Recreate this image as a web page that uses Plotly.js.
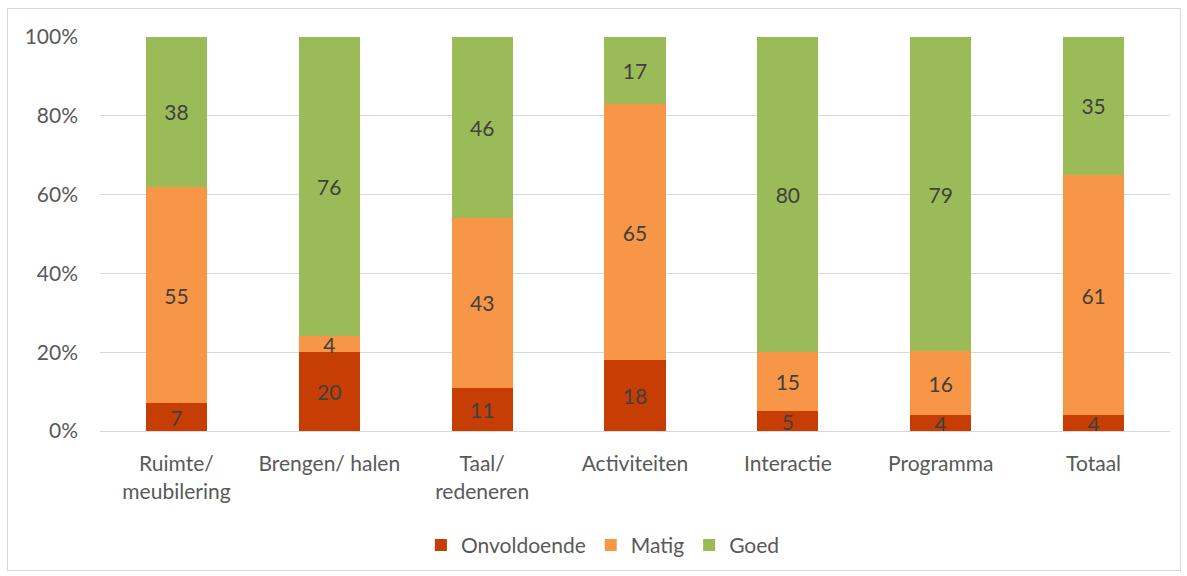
<!DOCTYPE html>
<html><head><meta charset="utf-8">
<script src="https://cdn.plot.ly/plotly-3.0.1.min.js"></script>
<style>
html,body{margin:0;padding:0;background:#fff;}
#frame{position:absolute;left:7px;top:8px;width:1172px;height:561px;border:1px solid #D9D9D9;}
#chart{position:absolute;left:0;top:0;width:1187px;height:576px;}
</style></head>
<body>
<div id="frame"></div>
<div id="chart"></div>
<script>
const categories = ["Ruimte/<br>meubilering","Brengen/ halen","Taal/<br>redeneren","Activiteiten","Interactie","Programma","Totaal"];
const onvoldoende = [7,20,11,18,5,4,4];
const matig = [55,4,43,65,15,16,61];
const goed = [38,76,46,17,80,79,35];
const seriesNames = ["Onvoldoende","Matig","Goed"];
const colors = ["#C73E04","#F79646","#9BBB59"];
const yTicks = [0,20,40,60,80,100];

const font = "Lato, 'Open Sans', sans-serif";
const fs = 21;
const series = [onvoldoende, matig, goed];
const data = series.map((vals,i)=>({
  type:'bar', name:seriesNames[i], x:categories, y:vals,
  text:vals.map(String), textposition:'inside', insidetextanchor:'middle',
  constraintext:'none', textangle:0, cliponaxis:false,
  textfont:{family:font,size:fs,color:'#404040'},
  marker:{color:colors[i]}, width:0.4, hoverinfo:'none'
}));

const layout = {
  width:1187, height:576,
  margin:{l:100,r:17,t:37,b:145,autoexpand:false},
  barmode:'stack', barnorm:'percent',
  paper_bgcolor:'rgba(0,0,0,0)', plot_bgcolor:'rgba(0,0,0,0)',
  font:{family:font,size:fs,color:'#595959'},
  xaxis:{tickfont:{family:font,size:fs,color:'#595959'},showline:true,linecolor:'#D9D9D9',ticks:'',
         ticklabelstandoff:14,automargin:false,fixedrange:true},
  yaxis:{range:[0,100.001],tickvals:yTicks,ticktext:yTicks.map(v=>v+'%'),gridcolor:'#D9D9D9',gridwidth:1,zeroline:false,
         tickfont:{family:font,size:fs,color:'#595959'},ticks:'',ticklen:0,ticklabelstandoff:21,automargin:false,fixedrange:true},
  showlegend:true,
  legend:{orientation:'h',x:0.47,xanchor:'center',y:-0.29,yanchor:'middle',traceorder:'normal',
          font:{family:font,size:fs,color:'#595959'},itemwidth:30}
};
Plotly.newPlot('chart',data,layout,{displayModeBar:false,staticPlot:true});
</script>
</body></html>
